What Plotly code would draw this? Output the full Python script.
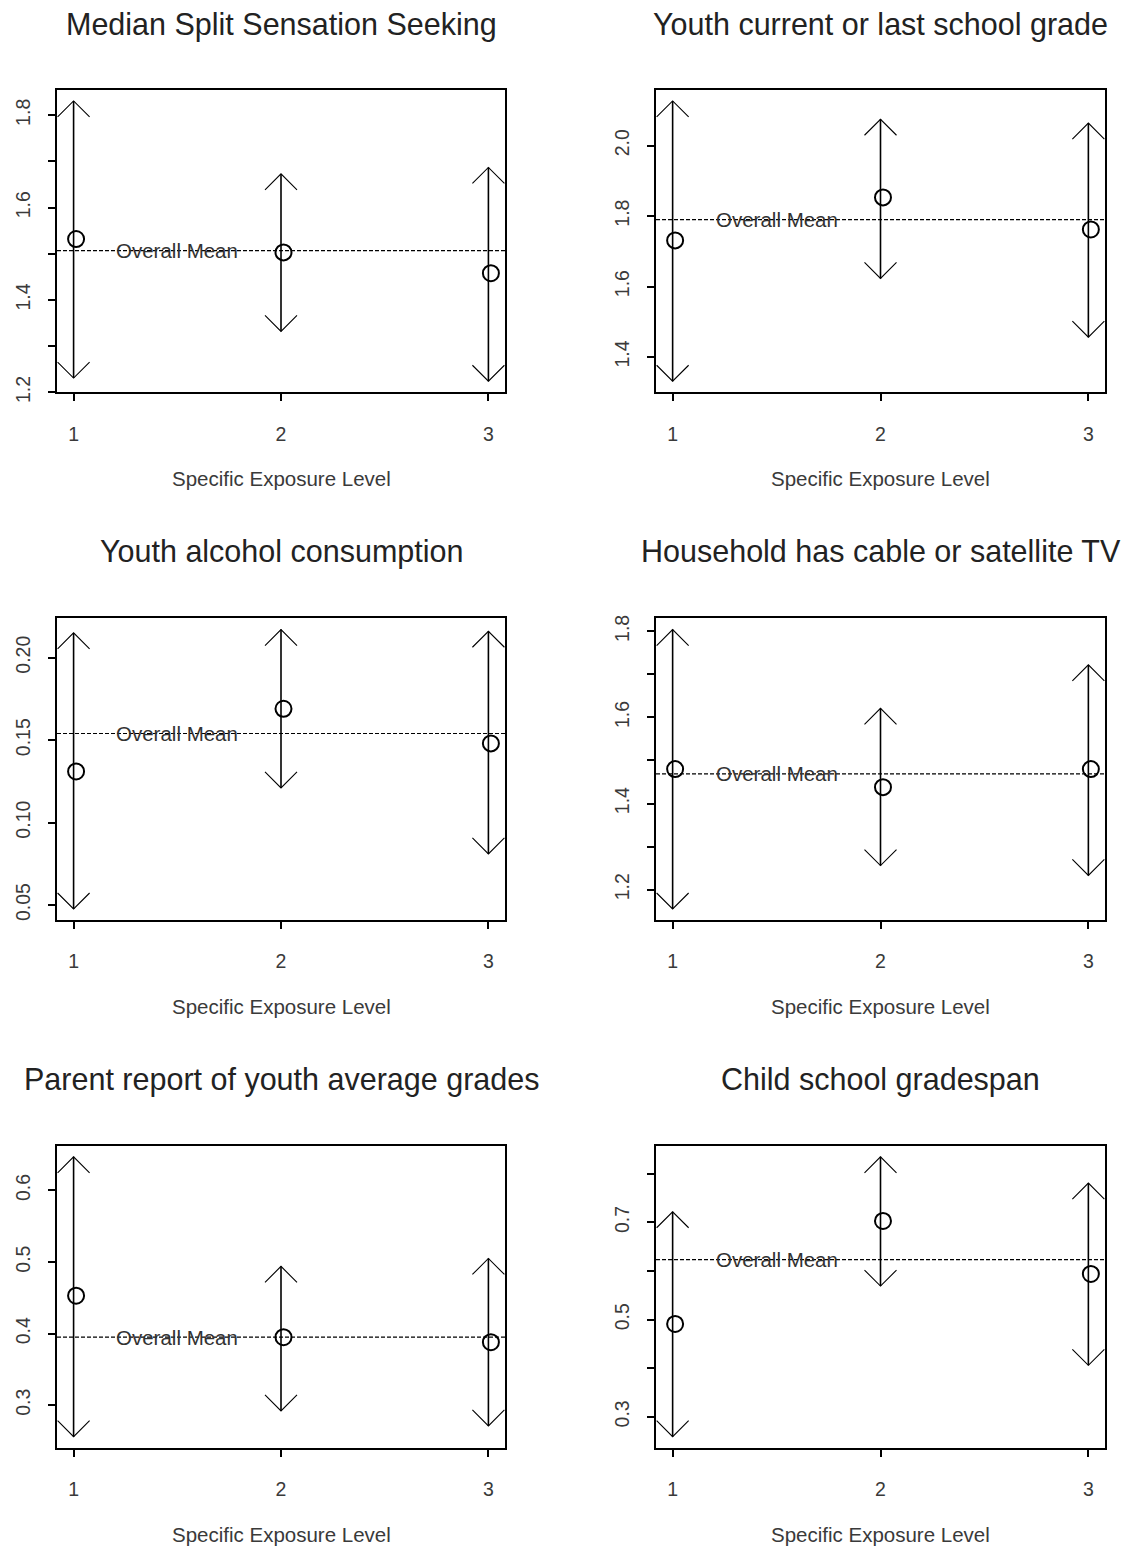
import plotly.graph_objects as go

W, H = 1127, 1558

levels = [1, 2, 3]
level_labels = ["1", "2", "3"]
x_title = "Specific Exposure Level"
mean_label = "Overall Mean"

titles = [
    "Median Split Sensation Seeking",
    "Youth current or last school grade",
    "Youth alcohol consumption",
    "Household has cable or satellite TV",
    "Parent report of youth average grades",
    "Child school gradespan",
]

means_p1 = [1.532, 1.503, 1.458]
lower_p1 = [1.231, 1.332, 1.224]
upper_p1 = [1.831, 1.673, 1.687]
overall_p1 = 1.507

means_p2 = [1.731, 1.853, 1.762]
lower_p2 = [1.331, 1.623, 1.456]
upper_p2 = [2.127, 2.075, 2.064]
overall_p2 = 1.790

means_p3 = [0.131, 0.169, 0.148]
lower_p3 = [0.0476, 0.121, 0.081]
upper_p3 = [0.215, 0.217, 0.216]
overall_p3 = 0.154

means_p4 = [1.480, 1.438, 1.480]
lower_p4 = [1.155, 1.256, 1.233]
upper_p4 = [1.804, 1.621, 1.722]
overall_p4 = 1.469

means_p5 = [0.453, 0.395, 0.388]
lower_p5 = [0.256, 0.292, 0.271]
upper_p5 = [0.647, 0.494, 0.505]
overall_p5 = 0.395

means_p6 = [0.491, 0.703, 0.594]
lower_p6 = [0.259, 0.569, 0.406]
upper_p6 = [0.722, 0.835, 0.781]
overall_p6 = 0.6235

yticks_p1 = [1.2, 1.3, 1.4, 1.5, 1.6, 1.7, 1.8]
ylabels_p1 = ["1.2", "", "1.4", "", "1.6", "", "1.8"]
yticks_p2 = [1.4, 1.6, 1.8, 2.0]
ylabels_p2 = ["1.4", "1.6", "1.8", "2.0"]
yticks_p3 = [0.05, 0.10, 0.15, 0.20]
ylabels_p3 = ["0.05", "0.10", "0.15", "0.20"]
yticks_p4 = [1.2, 1.3, 1.4, 1.5, 1.6, 1.7, 1.8]
ylabels_p4 = ["1.2", "", "1.4", "", "1.6", "", "1.8"]
yticks_p5 = [0.3, 0.4, 0.5, 0.6]
ylabels_p5 = ["0.3", "0.4", "0.5", "0.6"]
yticks_p6 = [0.3, 0.4, 0.5, 0.6, 0.7, 0.8]
ylabels_p6 = ["0.3", "", "0.5", "", "0.7", ""]

panels = [
    (means_p1, lower_p1, upper_p1, overall_p1, yticks_p1, ylabels_p1),
    (means_p2, lower_p2, upper_p2, overall_p2, yticks_p2, ylabels_p2),
    (means_p3, lower_p3, upper_p3, overall_p3, yticks_p3, ylabels_p3),
    (means_p4, lower_p4, upper_p4, overall_p4, yticks_p4, ylabels_p4),
    (means_p5, lower_p5, upper_p5, overall_p5, yticks_p5, ylabels_p5),
    (means_p6, lower_p6, upper_p6, overall_p6, yticks_p6, ylabels_p6),
]

# layout geometry (pixels)
col_px = [(57, 505), (656, 1105)]
row_px = [(87.5, 393), (621, 925.5), (1153, 1458)]
title_y = [22, 553, 1086]
xlab_y = [480, 1013, 1545]

FONT = "Liberation Sans, Arial, Helvetica, sans-serif"
TXT = "#222222"
TICK = "#3a3a3a"

def px2fx(x):
    return x / W

def px2fy(y):
    return 1 - y / H

fig = go.Figure()
shapes = []
annotations = []
layout = {}

point_offset = 0.012
head = 16

for i, (m, lo, hi, ov, tv, tl) in enumerate(panels):
    r, c = divmod(i, 2)
    n = i + 1
    xa = "x" if n == 1 else f"x{n}"
    ya = "y" if n == 1 else f"y{n}"
    xkey = "xaxis" if n == 1 else f"xaxis{n}"
    ykey = "yaxis" if n == 1 else f"yaxis{n}"

    span = max(hi) - min(lo)
    yr = [min(lo) - 0.04 * span, max(hi) + 0.04 * span]

    # shafts
    sx, sy = [], []
    for lv, l, h in zip(levels, lo, hi):
        sx += [lv, lv, None]
        sy += [l, h, None]
    fig.add_trace(go.Scatter(x=sx, y=sy, mode="lines", xaxis=xa, yaxis=ya,
                             line=dict(color="black", width=1.6),
                             showlegend=False, hoverinfo="skip"))
    # means
    fig.add_trace(go.Scatter(x=[lv + point_offset for lv in levels], y=m,
                             mode="markers", xaxis=xa, yaxis=ya,
                             marker=dict(symbol="circle-open", size=16,
                                         color="black", line=dict(width=2)),
                             showlegend=False))
    # arrow heads (open V), anchored at the CI ends
    for lv, l, h in zip(levels, lo, hi):
        shapes.append(dict(type="path", xref=xa, yref=ya,
                           xsizemode="pixel", ysizemode="pixel",
                           xanchor=lv, yanchor=h,
                           path=f"M{-head},{-head} L0,0 L{head},{-head}",
                           line=dict(color="black", width=1.1)))
        shapes.append(dict(type="path", xref=xa, yref=ya,
                           xsizemode="pixel", ysizemode="pixel",
                           xanchor=lv, yanchor=l,
                           path=f"M{-head},{head} L0,0 L{head},{head}",
                           line=dict(color="black", width=1.1)))
    # overall mean line
    shapes.append(dict(type="line", xref=f"{xa} domain", yref=ya,
                       x0=0, x1=1, y0=ov, y1=ov,
                       line=dict(color="black", width=1.2, dash="4px,2px")))
    annotations.append(dict(x=1.5, y=ov, xref=xa, yref=ya, text=mean_label,
                            showarrow=False, xanchor="center", yanchor="middle",
                            font=dict(family=FONT, size=20.5, color="#333333")))

    x0p, x1p = col_px[c]
    y0p, y1p = row_px[r]
    layout[xkey] = dict(domain=[px2fx(x0p), px2fx(x1p)], range=[0.92, 3.08],
                        anchor=ya, tickmode="array", tickvals=levels,
                        ticktext=level_labels, ticks="outside", ticklen=7,
                        tickwidth=1.5, tickcolor="black",
                        showline=True, linecolor="black", linewidth=1.5,
                        mirror=True, showgrid=False, zeroline=False,
                        ticklabelstandoff=16,
                        tickfont=dict(family=FONT, size=19.5, color=TICK))
    layout[ykey] = dict(domain=[px2fy(y1p), px2fy(y0p)], range=yr,
                        anchor=xa, tickmode="array", tickvals=tv,
                        ticktext=tl, ticks="outside", ticklen=7,
                        tickwidth=1.5, tickcolor="black", tickangle=-90,
                        showline=True, linecolor="black", linewidth=1.5,
                        mirror=True, showgrid=False, zeroline=False,
                        ticklabelstandoff=10,
                        tickfont=dict(family=FONT, size=19.5, color=TICK))

    cx = (x0p + x1p) / 2
    annotations.append(dict(x=px2fx(cx), y=px2fy(title_y[r]), xref="paper",
                            yref="paper", text=titles[i], showarrow=False,
                            xanchor="center", yanchor="middle",
                            font=dict(family=FONT, size=30.5, color=TXT)))
    annotations.append(dict(x=px2fx(cx), y=px2fy(xlab_y[r]), xref="paper",
                            yref="paper", text=x_title, showarrow=False,
                            xanchor="center", yanchor="middle",
                            font=dict(family=FONT, size=20.5, color=TICK)))

fig.update_layout(width=W, height=H, margin=dict(l=0, r=0, t=0, b=0),
                  paper_bgcolor="white", plot_bgcolor="white",
                  shapes=shapes, annotations=annotations, **layout)

fig.write_html("out.html")
